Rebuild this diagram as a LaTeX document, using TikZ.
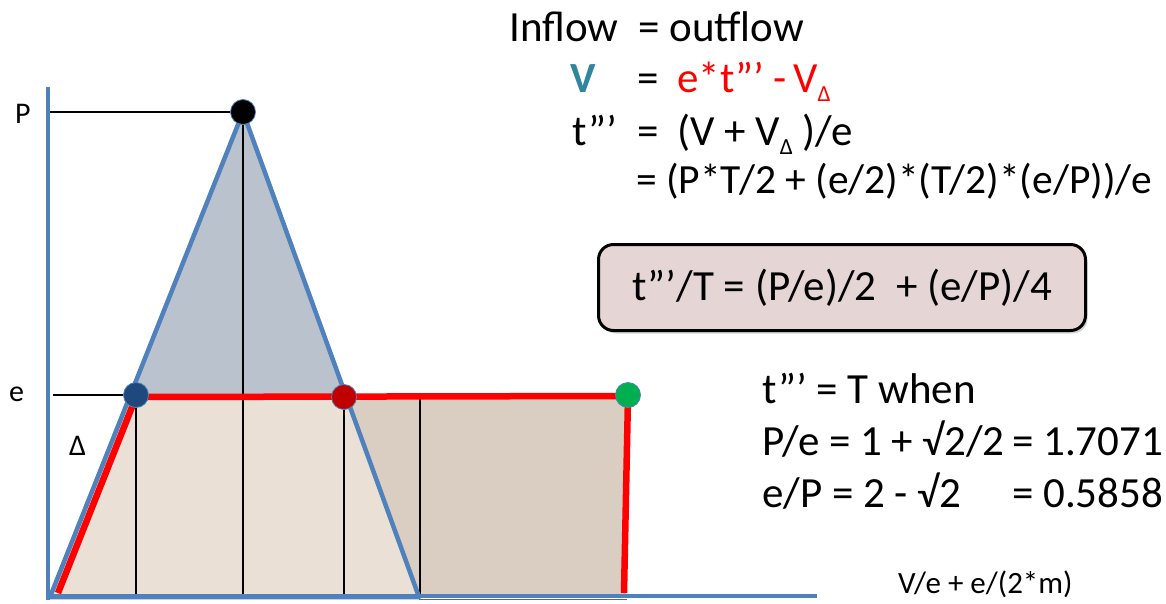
\documentclass[tikz,border=0pt]{standalone}
\usepackage{fontspec}
\setmainfont{Carlito}
\usetikzlibrary{shadows}
\definecolor{axisblue}{HTML}{4F81BD}
\definecolor{trifill}{HTML}{BAC3CD}
\definecolor{lightbeige}{HTML}{EBE0D5}
\definecolor{darkbeige}{HTML}{D9CEC1}
\definecolor{boxfill}{HTML}{E5D5D5}
\definecolor{tealv}{HTML}{31859C}
\definecolor{dotblue}{HTML}{1F497D}
\definecolor{dotred}{HTML}{C00000}
\definecolor{dotgreen}{HTML}{00B050}
\newcommand\bigtxt{\fontsize{43}{50}\selectfont}
\newcommand\widetxt{\fontsize{41.5}{50}\selectfont}
\newcommand\lbltxt{\fontsize{30}{36}\selectfont}
\newcommand\smalltxt{\fontsize{31}{36}\selectfont}
\newcommand\subtxt[1]{\raisebox{-9pt}{\fontsize{23}{28}\selectfont #1}}
\begin{document}
\begin{tikzpicture}[x=1pt,y=-1pt,
  eqtext/.style={anchor=base west, inner sep=0pt, font=\bigtxt},
  axislbl/.style={anchor=base west, inner sep=0pt, font=\lbltxt},
  blueline/.style={draw=axisblue, line width=4.5pt, line join=round},
  axisline/.style={draw=axisblue, line width=3.2pt},
  guide/.style={draw=black, line width=1.1pt},
  redpath/.style={draw=red, line width=6.5pt, line join=round},
  dotstyle/.style={circle, inner sep=0pt, minimum size=25pt, draw=axisblue, line width=0.8pt},
  resultbox/.style={draw=black, line width=3pt, rounded corners=15pt, fill=boxfill,
    minimum width=487pt, minimum height=86pt, inner sep=0pt, font=\bigtxt,
    drop shadow={shadow xshift=2pt, shadow yshift=-3pt, opacity=0.35}}
]
\useasboundingbox (0,0) rectangle (1166,603);

% key points
\coordinate (apex) at (243,112);
\coordinate (bl) at (50,597);
\coordinate (br) at (419,597);
\coordinate (el) at (130,396);
\coordinate (er) at (346,396);
\coordinate (rtl) at (344,396);
\coordinate (rbr) at (626,598);

% fills
\fill[darkbeige] (rtl) rectangle (rbr);
\fill[lightbeige] (bl) -- (el) -- (er) -- (br) -- cycle;
\fill[trifill] (apex) -- (el) -- (er) -- cycle;
\coordinate (gb1) at (419,599);
\coordinate (gb2) at (627,599);
\draw[draw=gray!80!black, line width=0.9pt] (gb1) -- (gb2);

% vertical guides
\coordinate (v1t) at (136,400); \coordinate (v1b) at (136,597);
\coordinate (v2b) at (243,597);
\coordinate (v3t) at (344,396); \coordinate (v3b) at (344,597);
\coordinate (v4t) at (420,396); \coordinate (v4b) at (420,597);
\draw[guide] (v1t) -- (v1b);
\draw[guide] (apex) -- (v2b);
\draw[guide] (v3t) -- (v3b);
\draw[guide] (v4t) -- (v4b);

% level guides
\coordinate (pl) at (50,112); \coordinate (pr) at (231,112);
\coordinate (elft) at (53,395); \coordinate (ergt) at (124,395);
\draw[guide] (pl) -- (pr);
\draw[guide] (elft) -- (ergt);

% axes
\coordinate (ytop) at (48,87);
\coordinate (ybot) at (48,600);
\coordinate (xl) at (48,596);
\coordinate (xr) at (817,596);
\draw[axisline] (ytop) -- (ybot);
\draw[axisline] (xl) -- (xr);

% triangle
\draw[blueline] (bl) -- (apex) -- (br) -- cycle;

% red path
\coordinate (r1) at (58,593);
\coordinate (r2) at (136,397);
\coordinate (r3) at (628,396);
\coordinate (r4) at (624,593);
\draw[redpath] (r1) -- (r2) -- (r3) -- (r4);

% dots
\node[dotstyle, fill=black] (dP) at (243,112) {};
\node[dotstyle, fill=dotblue] (dB) at (136,395) {};
\node[dotstyle, fill=dotred] (dR) at (344,397) {};
\node[dotstyle, fill=dotgreen] (dG) at (628,395) {};

% axis labels
\node[axislbl] (lP) at (15,123) {P};
\node[axislbl] (le) at (9,401) {e};
\node[axislbl] (lD) at (69,455) {Δ};

% equations
\node[eqtext] (l1a) at (509,41) {Inflow};
\node[eqtext] (l1b) at (638,41) {= outflow};
\node[eqtext, text=tealv, font=\bigtxt\bfseries] (l2a) at (570,92) {V};
\node[eqtext] (l2b) at (637,92) {=};
\node[eqtext, text=red] (l2c) at (677,92) {e*t”’};
\node[eqtext, text=red] (l2e) at (773,92) {-};
\node[eqtext, text=red] (l2d) at (793,92) {V\subtxt{Δ}};
\node[eqtext] (l3a) at (572,145) {t”’};
\node[eqtext] (l3b) at (637,145) {=};
\node[eqtext] (l3c) at (677,145) {(V + V\subtxt{Δ} )/e};
\node[eqtext, font=\widetxt] (l4) at (636,193) {= (P*T/2 + (e/2)*(T/2)*(e/P))/e};

% result box
\node[resultbox] (box) at (842,287.5) {t”’/T = (P/e)/2\ \ + (e/P)/4};

% condition
\node[eqtext] (c1) at (762,403) {t”’ = T when};
\node[eqtext] (c2a) at (762,455) {P/e = 1 + √2/2};
\node[eqtext] (c2b) at (1012,455) {= 1.7071};
\node[eqtext] (c3a) at (762,507) {e/P = 2 - √2};
\node[eqtext] (c3b) at (1012,507) {= 0.5858};

% axis note
\node[anchor=base west, inner sep=0pt, font=\smalltxt] (note) at (898,593) {V/e + e/(2*m)};
\end{tikzpicture}
\end{document}
